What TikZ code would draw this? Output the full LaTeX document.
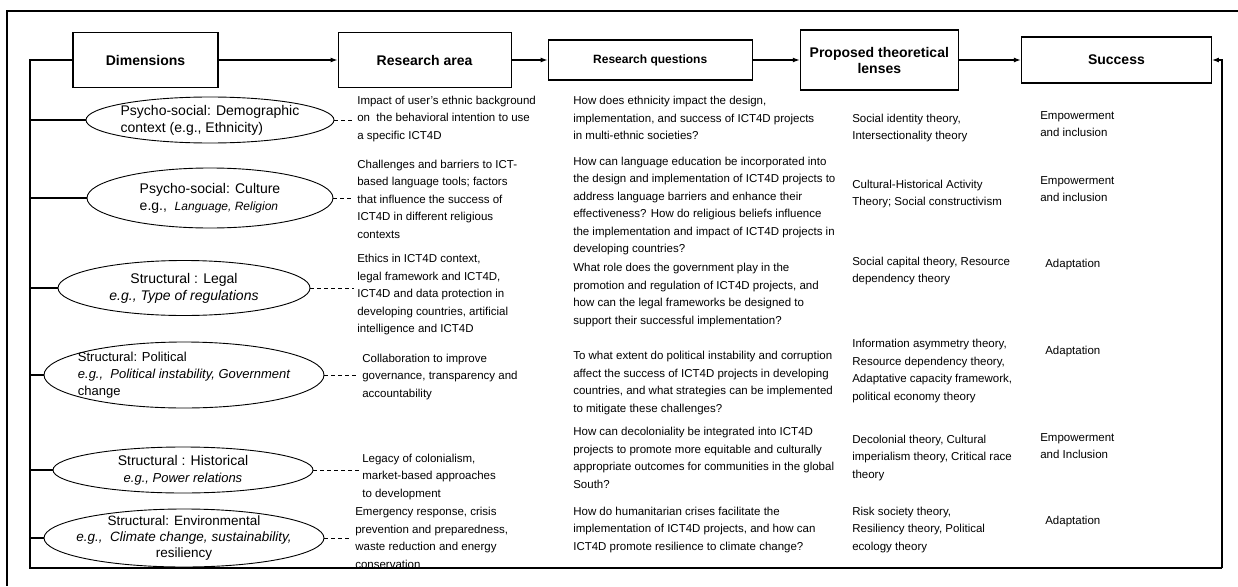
\documentclass[tikz,border=0pt]{standalone}
\usepackage{fontspec}
\setmainfont{Liberation Sans}
\usepackage{tikz}
\usetikzlibrary{positioning}
\usetikzlibrary{calc}
\usetikzlibrary{arrows.meta}
\usetikzlibrary{shapes}
\tikzset{
hd/.style={
  draw=black,
  line width=1.1pt,
  align=center,
  inner sep=2pt,
  font=\fontsize{14}{16}\selectfont\bfseries
  },
el/.style={
  ellipse,
  draw=black,
  line width=0.9pt,
  inner sep=-40pt,
  font=\fontsize{14}{17}\selectfont
  },
txt/.style={
  anchor=west,
  align=left,
  inner sep=0pt,
  font=\fontsize{11.5}{17.5}\selectfont
  },
lp/.style={line width=1.2pt},
dsh/.style={line width=0.9pt, dash pattern=on 4pt off 3pt, shorten >=3pt}
}

\begin{document}
\begin{tikzpicture}[x=1pt,y=-1pt,>={Latex[length=7pt,width=5pt]},semithick]
            \path[use as bounding box, fill=white] (0,0) rectangle (1238,586);
            \draw[line width=2pt] (1238,11) -- (7,11) -- (7,586);
            % header row
            \node[hd,minimum width=145pt,minimum height=55pt] (dim) at (145.5,60) {Dimensions};
            \node[hd,minimum width=173pt,minimum height=55pt] (area) [right=119pt of dim] {Research area};
            \node[hd,minimum width=204pt,minimum height=40pt,font=\fontsize{12}{14}\selectfont\bfseries] (rq) [right=36pt of area] {Research questions};
            \node[hd,minimum width=158pt,minimum height=60pt] (lens) [right=47pt of rq] {Proposed theoretical\\lenses};
            \node[hd,minimum width=190pt,minimum height=46pt] (succ) [right=62pt of lens] {Success};
            \path[->,lp]
            (dim) edge (area)
            (area) edge (rq)
            (rq) edge (lens)
            (lens) edge (succ)
            ;
            % dimensions
            \node[el,minimum width=248pt,minimum height=46pt,align=left] (e1) at (210,120) {Psycho-social: Demographic\\context (e.g., Ethnicity)};
            \node[el,minimum width=246pt,minimum height=60pt,align=left] (e2) at (210,198) {Psycho-social: Culture\\e.g.,\ \ {\fontsize{12}{17}\selectfont\itshape Language, Religion}};
            \node[el,minimum width=252pt,minimum height=55pt,align=center] (e3) at (184,288) {Structural : Legal\\\itshape e.g., Type of regulations};
            \node[el,minimum width=280pt,minimum height=66pt,align=left,font=\fontsize{13}{17}\selectfont] (e4) at (184,375) {Structural: Political\\\itshape e.g.,\ \ Political instability, Government\\change};
            \node[el,minimum width=260pt,minimum height=46pt,align=center] (e5) at (183,470) {Structural : Historical\\\fontsize{13}{16}\selectfont\itshape e.g., Power relations};
            \node[el,minimum width=280pt,minimum height=58pt,align=center,font=\fontsize{13.5}{16}\selectfont] (e6) at (184,538) {Structural: Environmental\\\itshape e.g.,\ \ Climate change, sustainability,\\resiliency};
            % loop
            \coordinate (bl) at (30,568);
            \coordinate (br) at (1222,568);
            \draw[lp] (dim.west) -| (bl) -- (br);
            \draw[lp,->] (br) |- (succ.east);
            \foreach \e in {e1,e2,e3,e4,e5,e6}
              \draw[lp] (\e.west -| bl) -- (\e.west);
            % research area
            \node[txt] (a1) at (357,119) {Impact of user's ethnic background\\on\ \ the behavioral intention to use\\a specific ICT4D};
            \node[txt] (a2) at (357,199) {Challenges and barriers to ICT-\\based language tools; factors\\that influence the success of\\ICT4D in different religious\\contexts};
            \node[txt] (a3) at (357,295) {Ethics in ICT4D context,\\legal framework and ICT4D,\\ICT4D and data protection in\\developing countries, artificial\\intelligence and ICT4D};
            \node[txt] (a4) at (362,377) {Collaboration to improve\\governance, transparency and\\accountability};
            \node[txt] (a5) at (362,477) {Legacy of colonialism,\\market-based approaches\\to development};
            \node[txt] (a6) at (355,538) {Emergency response, crisis\\prevention and preparedness,\\waste reduction and energy\\conservation};
            \foreach \i in {1,...,6}
              \draw[dsh] (e\i.east) -- (e\i.east -| a\i.west);
            % research questions
            \node[txt] (q1) at (573,118) {How does ethnicity impact the design,\\implementation, and success of ICT4D projects\\in multi-ethnic societies?};
            \node[txt] (q2) at (573,206) {How can language education be incorporated into\\the design and implementation of ICT4D projects to\\address language barriers and enhance their\\effectiveness? How do religious beliefs influence\\the implementation and impact of ICT4D projects in\\developing countries?};
            \node[txt] (q3) at (573,295) {What role does the government play in the\\promotion and regulation of ICT4D projects, and\\how can the legal frameworks be designed to\\support their successful implementation?};
            \node[txt] (q4) at (573,383) {To what extent do political instability and corruption\\affect the success of ICT4D projects in developing\\countries, and what strategies can be implemented\\to mitigate these challenges?};
            \node[txt] (q5) at (573,458) {How can decoloniality be integrated into ICT4D\\projects to promote more equitable and culturally\\appropriate outcomes for communities in the global\\South?};
            \node[txt] (q6) at (573,530) {How do humanitarian crises facilitate the\\implementation of ICT4D projects, and how can\\ICT4D promote resilience to climate change?};
            % lenses
            \node[txt] (l1) at (852,128) {Social identity theory,\\Intersectionality theory};
            \node[txt] (l2) at (852,194) {Cultural-Historical Activity\\Theory; Social constructivism};
            \node[txt] (l3) at (852,271) {Social capital theory, Resource\\dependency theory};
            \node[txt] (l4) at (852,371) {Information asymmetry theory,\\Resource dependency theory,\\Adaptative capacity framework,\\political economy theory};
            \node[txt] (l5) at (852,458) {Decolonial theory, Cultural\\imperialism theory, Critical race\\theory};
            \node[txt] (l6) at (852,530) {Risk society theory,\\Resiliency theory, Political\\ecology theory};
            % success
            \node[txt] (s1) at (1040,124) {Empowerment\\and inclusion};
            \node[txt] (s2) at (1040,189) {Empowerment\\and inclusion};
            \node[txt] (s3) at (1045,265) {Adaptation};
            \node[txt] (s4) at (1045,352) {Adaptation};
            \node[txt] (s5) at (1040,446) {Empowerment\\and Inclusion};
            \node[txt] (s6) at (1045,522) {Adaptation};
\end{tikzpicture}
\end{document}
